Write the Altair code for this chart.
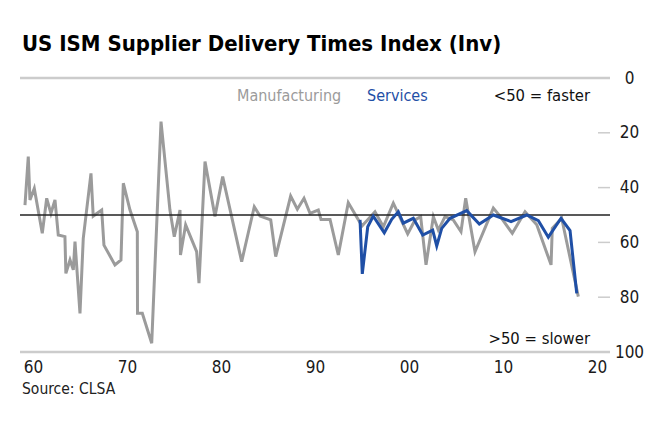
import altair as alt
import pandas as pd

# ---- data ----
mfg_year = [1959.15, 1959.50, 1959.68, 1960.14, 1960.99, 1961.46, 1961.91, 1962.34, 1962.69, 1963.40,
            1963.50, 1963.94, 1964.29, 1964.47, 1965.00, 1965.35, 1966.17, 1966.41, 1967.31, 1967.55,
            1968.72, 1969.36, 1969.61, 1970.32, 1971.10, 1971.12, 1971.63, 1972.63, 1973.62, 1974.57,
            1975.03, 1975.64, 1975.69, 1976.24, 1977.41, 1977.66, 1978.30, 1979.36, 1980.18, 1982.20,
            1983.54, 1984.15, 1985.29, 1985.82, 1987.41, 1988.12, 1988.83, 1989.47, 1990.35, 1990.64,
            1991.60, 1992.48, 1993.54, 1995.00, 1996.38, 1997.27, 1998.33, 1999.86, 2000.64, 2001.24,
            2001.81, 2002.59, 2003.12, 2003.83, 2004.71, 2005.53, 2006.03, 2007.02, 2008.97, 2009.68,
            2010.99, 2012.34, 2013.59, 2015.11, 2015.24, 2016.24, 2018.01]
mfg_value = [46.4, 28.7, 44.5, 40.3, 56.7, 43.9, 49.4, 44.5, 57.3, 57.9,
             71.3, 66.4, 70.0, 59.7, 85.9, 58.5, 34.8, 50.4, 48.2, 61.0,
             68.2, 66.4, 38.4, 48.2, 56.1, 85.9, 85.9, 96.8, 15.9, 48.2,
             57.9, 48.2, 64.6, 53.6, 63.4, 74.9, 30.5, 50.5, 36.0, 67.0,
             47.0, 50.4, 51.8, 65.2, 43.1, 47.9, 43.9, 49.4, 48.2, 51.6,
             51.6, 64.6, 45.5, 54.0, 48.8, 54.3, 45.7, 56.9, 51.8, 50.6,
             68.2, 50.6, 55.5, 50.6, 51.8, 56.1, 43.9, 63.4, 47.5, 50.4,
             56.7, 48.8, 53.6, 68.2, 54.9, 51.2, 79.8]

svc_year = [1994.79, 1995.03, 1995.61, 1996.20, 1997.37, 1998.16, 1998.86, 1999.39, 2000.46, 2001.46,
            2002.52, 2002.95, 2003.48, 2004.36, 2006.14, 2007.48, 2008.97, 2010.85, 2012.52, 2013.76,
            2014.82, 2016.17, 2017.13, 2017.84]
svc_value = [51.8, 71.5, 54.3, 50.4, 56.5, 51.6, 48.8, 53.0, 51.2, 57.3,
             55.5, 61.3, 54.9, 51.2, 48.4, 53.3, 50.0, 52.4, 50.0, 52.1,
             58.1, 51.2, 55.7, 78.6]

y_ticks = [0, 20, 40, 60, 80, 100]
x_ticks = [1960, 1970, 1980, 1990, 2000, 2010, 2020]
threshold = [50]
frame_lines = [0, 100]
inner_ticks = [20, 40, 60, 80]

FONT = "Liberation Sans Narrow, DejaVu Sans Condensed, Roboto Condensed, Arial Narrow, sans-serif"
GRAY = "#9b9b9b"
BLUE = "#1f4fa6"

W, H = 590, 274

mfg = pd.DataFrame({"year": mfg_year, "value": mfg_value, "i": range(len(mfg_year))})
svc = pd.DataFrame({"year": svc_year, "value": svc_value, "i": range(len(svc_year))})

xscale = alt.Scale(domain=[1958.62, 2021.38], nice=False, zero=False)
yscale = alt.Scale(domain=[0, 100], reverse=True, nice=False)

base_axes = alt.Chart(pd.DataFrame({"year": [1960.0], "value": [50.0]})).mark_point(opacity=0).encode(
    x=alt.X("year:Q", scale=xscale, title=None,
            axis=alt.Axis(values=x_ticks, domain=False, ticks=False, grid=False,
                          labelExpr="(datum.value % 100 < 10 ? '0' : '') + (datum.value % 100)",
                          labelFont=FONT, labelFontSize=17, labelColor="#1a1a1a",
                          labelPadding=7, labelFlush=False)),
    y=alt.Y("value:Q", scale=yscale, title=None,
            axis=alt.Axis(orient="right", values=y_ticks, domain=False, ticks=False, grid=False,
                          labelFont=FONT, labelFontSize=17, labelColor="#1a1a1a",
                          labelAlign="center", labelPadding=19, labelFlush=False)),
)

frame = alt.Chart(pd.DataFrame({"v": frame_lines})).mark_rule(color="#cccccc", strokeWidth=2.5).encode(
    y=alt.Y("v:Q", scale=yscale), x=alt.value(0), x2=alt.value(W))

ticks = alt.Chart(pd.DataFrame({"v": inner_ticks})).mark_rule(color="#cccccc", strokeWidth=1.5).encode(
    y=alt.Y("v:Q", scale=yscale), x=alt.value(W - 12), x2=alt.value(W))

mfg_line = alt.Chart(mfg).mark_line(color=GRAY, strokeWidth=3, strokeJoin="miter").encode(
    x=alt.X("year:Q", scale=xscale), y=alt.Y("value:Q", scale=yscale), order="i:Q")

fifty = alt.Chart(pd.DataFrame({"v": threshold})).mark_rule(color="#222222", strokeWidth=1.5).encode(
    y=alt.Y("v:Q", scale=yscale), x=alt.value(0), x2=alt.value(W))

svc_line = alt.Chart(svc).mark_line(color=BLUE, strokeWidth=3, strokeJoin="miter").encode(
    x=alt.X("year:Q", scale=xscale), y=alt.Y("value:Q", scale=yscale), order="i:Q")


def label(txt, x, y, size, color="#111111", weight="normal", align="left"):
    return alt.Chart(pd.DataFrame({"t": [txt]})).mark_text(
        font=FONT, fontSize=size, fontWeight=weight, color=color, align=align, baseline="alphabetic"
    ).encode(text="t:N", x=alt.value(x), y=alt.value(y))


texts = [
    label("US ISM Supplier Delivery Times Index (Inv)", 2, -27, 22, "#000000", "bold"),
    label("Manufacturing", 217, 23, 16, GRAY),
    label("Services", 347, 23, 16, BLUE),
    label("<50 = faster", 570, 23, 16.5, "#111111", align="right"),
    label(">50 = slower", 570, 266, 16.5, "#111111", align="right"),
    label("Source: CLSA", 2, 316, 15.5, "#222222"),
]

chart = alt.layer(base_axes, frame, ticks, mfg_line, fifty, svc_line, *texts).properties(
    width=W, height=H,
    autosize=alt.AutoSizeParams(type="none"),
    padding={"left": 12, "top": 70, "right": 42, "bottom": 61},
    background="white",
).configure_view(stroke=None)

chart.save("out.html", embed_options={"renderer": "svg", "actions": False})
